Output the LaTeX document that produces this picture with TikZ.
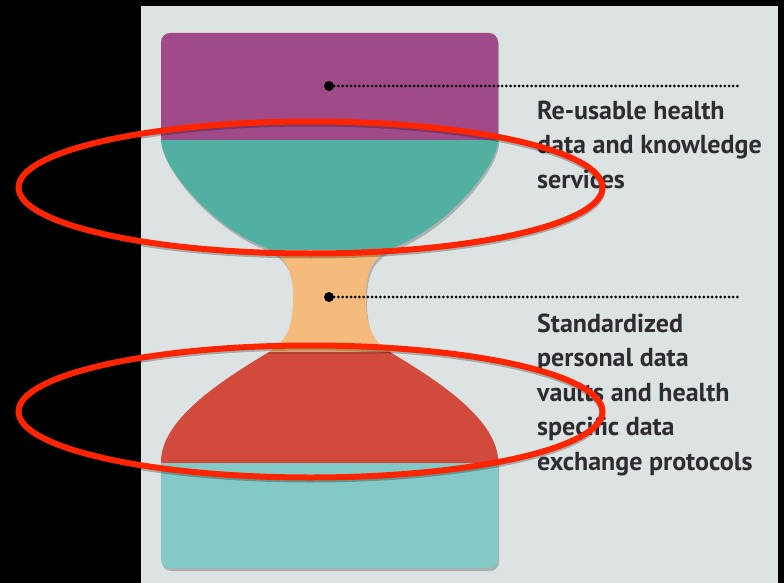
\documentclass[tikz,border=0pt]{standalone}
\usepackage{fontspec}
\setmainfont{PT Sans}
\usetikzlibrary{shapes.geometric}

\definecolor{panelgray}{RGB}{221,227,227}
\definecolor{plum}{RGB}{161,74,138}
\definecolor{seagreen}{RGB}{82,176,162}
\definecolor{apricot}{RGB}{245,187,124}
\definecolor{brick}{RGB}{210,74,59}
\definecolor{aqua}{RGB}{131,201,200}
\definecolor{marker}{RGB}{255,36,0}
\definecolor{inkgray}{RGB}{44,44,50}

% outline of the hourglass vessel (y grows downwards)
\def\vesselpath{(161,140) -- (161,42) .. controls (161,37) and (165,33) .. (170,33)
  -- (489,33) .. controls (494,33) and (498,37) .. (498,42) -- (498,140)
  .. controls (498,165) and (450,225) .. (395,247)
  .. controls (370,257) and (366,275) .. (366,298)
  .. controls (366,322) and (370,340) .. (390,352)
  .. controls (440,382) and (498,420) .. (498,462)
  -- (498,559) .. controls (498,564) and (494,568) .. (489,568)
  -- (170,568) .. controls (165,568) and (161,564) .. (161,559) -- (161,462)
  .. controls (161,420) and (219,382) .. (269,352)
  .. controls (289,340) and (293,322) .. (293,298)
  .. controls (293,275) and (289,257) .. (264,247)
  .. controls (209,225) and (161,165) .. (161,140) -- cycle}

\begin{document}
\begin{tikzpicture}[
    x=1pt, y=-1pt,
    dot/.style={circle, fill=black, inner sep=0pt, minimum size=10pt},
    leader/.style={line width=3pt, line cap=round, dash pattern=on 0pt off 4.2pt, black},
    caption/.style={anchor=base west, inner sep=0pt, align=left, text=inkgray,
        font=\fontsize{26}{34.5}\selectfont\bfseries},
    ring/.style={ellipse, draw=marker, line width=6pt, inner sep=0pt,
        minimum width=584pt, minimum height=132pt,
        preaction={draw=black, draw opacity=0.25, line width=6pt, transform canvas={yshift=-2pt}}}
]

    % Background
    \fill[black] (0,0) rectangle (784,583);
    \fill[panelgray] (141,6) rectangle (778,583);
    \useasboundingbox (0,0) rectangle (784,583);

    % Vessel
    \fill[black, opacity=0.22, shift={(1,3)}] \vesselpath;
    \begin{scope}
        \clip \vesselpath;
        \fill[plum] (150,20) rectangle (510,140);
        \fill[seagreen] (150,140) rectangle (510,250);
        \fill[apricot] (150,250) rectangle (510,352);
        \fill[brick] (150,352) rectangle (510,463);
        \fill[aqua] (150,463) rectangle (510,580);
        \fill[black, opacity=0.12] (150,351) rectangle (510,354);
    \end{scope}

    % Nodes
    \node[dot] (topdot) at (329,86) {};
    \node[dot] (neckdot) at (329,297) {};
    \coordinate (topend) at (741,86);
    \coordinate (neckend) at (741,297);

    % last baseline of each caption
    \node[caption] (services) at (537,188) {Re-usable health\\data and knowledge\\services};
    \node[caption] (vaults) at (537,470) {Standardized\\personal data\\vaults and health\\specific data\\exchange protocols};

    % Leaders
    \draw[leader] (topdot) -- (topend);
    \draw[leader] (neckdot) -- (neckend);

    % Highlight rings
    \node[ring] (upperring) at (310.5,187.5) {};
    \node[ring] (lowerring) at (310.5,411.5) {};

\end{tikzpicture}
\end{document}
